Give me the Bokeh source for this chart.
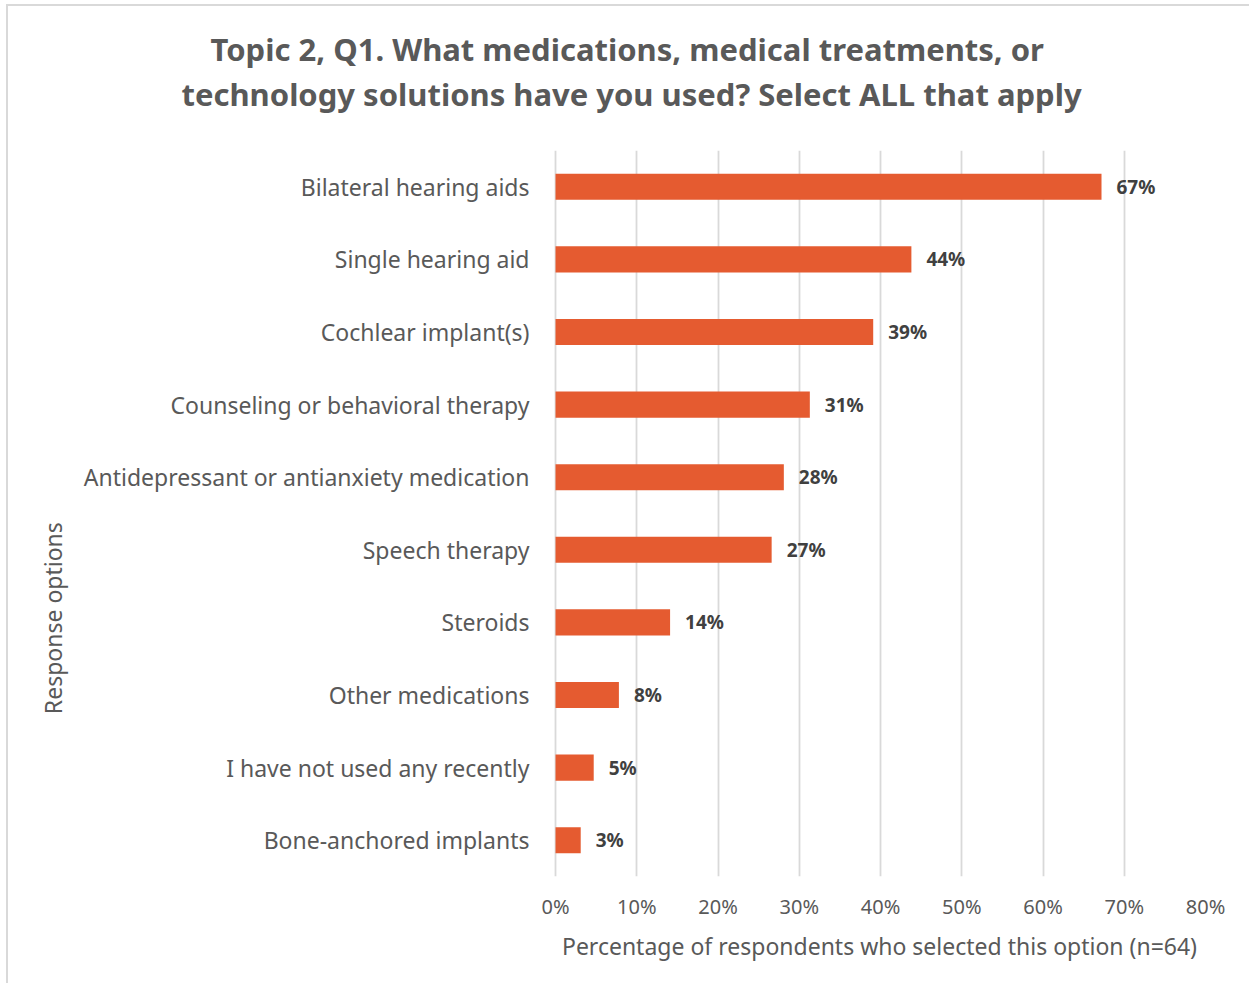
from bokeh.plotting import figure
from bokeh.models import (ColumnDataSource, FactorRange, Range1d, FixedTicker,
                          PrintfTickFormatter, LabelSet, Title)
from bokeh.core.properties import value
from bokeh.embed import file_html
from bokeh.resources import INLINE

categories = ["Bilateral hearing aids", "Single hearing aid", "Cochlear implant(s)",
              "Counseling or behavioral therapy", "Antidepressant or antianxiety medication",
              "Speech therapy", "Steroids", "Other medications",
              "I have not used any recently", "Bone-anchored implants"]
values = [67.2, 43.8, 39.1, 31.3, 28.1, 26.6, 14.1, 7.8, 4.7, 3.1]
value_labels = ["67%", "44%", "39%", "31%", "28%", "27%", "14%", "8%", "5%", "3%"]
x_ticks = [0, 10, 20, 30, 40, 50, 60, 70, 80]
title_lines = ["Topic 2, Q1. What medications, medical treatments, or",
               "technology solutions have you used? Select ALL that apply"]
y_axis_title = "Response options"
x_axis_title = "Percentage of respondents who selected this option (n=64)"

FONT = "Noto Sans"
GREY = "#595959"
W, H = 1243, 979
FL = 545            # frame left inside the figure
FW = 652            # frame width

src = ColumnDataSource(dict(cat=categories, val=values, lab=value_labels))
p = figure(width=W, height=H, output_backend="svg", toolbar_location=None,
           y_range=FactorRange(factors=list(reversed(categories)), range_padding=0),
           x_range=Range1d(-0.25, 80),
           min_border_left=FL, min_border_right=W - FL - FW, min_border_top=144,
           min_border_bottom=H - 144 - 726,
           styles={"margin-left": "6px", "margin-top": "4px",
                   "border-left": "2px solid #d9d9d9",
                   "border-top": "2px solid #d9d9d9"})
p.outline_line_color = None

# two-line title; first added layout title sits closest to the plot,
# the figure's own title is outermost
spacer = Title(text=" ", text_font_size="20px", standoff=11, text_color=GREY)
p.add_layout(spacer, "above")
t2 = Title(text=title_lines[1], align="left", offset=181 - 8 - FL, text_font=FONT,
           text_font_style="bold", text_font_size="31px", text_color=GREY, standoff=1)
p.add_layout(t2, "above")
p.title.text = title_lines[0]
p.title.align = "left"
p.title.offset = 210 - 8 - FL
p.title.text_font = FONT
p.title.text_font_style = "bold"
p.title.text_font_size = "31px"
p.title.text_color = GREY
p.title.standoff = 1

p.hbar(y="cat", right="val", height=0.36, left=0, source=src,
       fill_color="#E55B30", line_color=None)

labels = LabelSet(x="val", y="cat", text="lab", source=src, x_offset=15,
                  text_baseline="middle", text_font=value(FONT), text_font_style="bold",
                  text_font_size="19px", text_color="#404040")
p.add_layout(labels)

p.ygrid.grid_line_color = None
p.xgrid.grid_line_color = "#D9D9D9"
p.xgrid.grid_line_width = 1.8
p.xaxis.ticker = FixedTicker(ticks=x_ticks)
p.xgrid.ticker = FixedTicker(ticks=x_ticks)
p.xaxis.formatter = PrintfTickFormatter(format="%d%%")

for ax in (p.xaxis, p.yaxis):
    ax.axis_line_color = None
    ax.major_tick_line_color = None
    ax.minor_tick_line_color = None
    ax.major_label_text_font = FONT
    ax.major_label_text_color = GREY
    ax.axis_label_text_font = FONT
    ax.axis_label_text_color = GREY
    ax.axis_label_text_font_style = "normal"

p.xaxis.major_label_text_font_size = "20px"
p.xaxis.major_label_standoff = 10
p.xaxis.axis_label = x_axis_title
p.xaxis.axis_label_text_font_size = "23px"
p.xaxis.axis_label_standoff = 7

p.yaxis.major_label_text_font_size = "23px"
p.yaxis.major_label_standoff = 18
# trailing non-breaking spaces push the rotated label down, as in the original
p.yaxis.axis_label = y_axis_title + "\u00a0" * 35
p.yaxis.axis_label_text_font_size = "23px"
p.yaxis.axis_label_standoff = 12

open("out.html", "w").write(file_html(p, INLINE))
